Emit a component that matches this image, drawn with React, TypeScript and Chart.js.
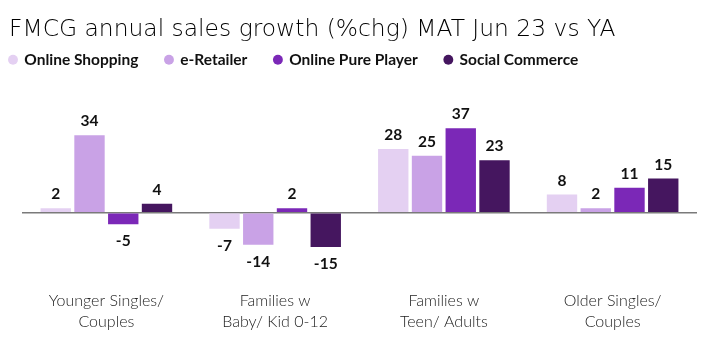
import React, { useEffect, useRef } from "react";
import { Chart, registerables } from "chart.js";

Chart.register(...registerables);

const categories: string[][] = [
  ["Younger Singles/", "Couples"],
  ["Families w", "Baby/ Kid 0-12"],
  ["Families w", "Teen/ Adults"],
  ["Older Singles/", "Couples"],
];
const seriesNames = ["Online Shopping", "e-Retailer", "Online Pure Player", "Social Commerce"];
const onlineShopping = [2, -7, 28, 8];
const eRetailer = [34, -14, 25, 2];
const onlinePurePlayer = [-5, 2, 37, 11];
const socialCommerce = [4, -15, 23, 15];
const colors = ["#E4D0F2", "#C9A2E6", "#7B28B7", "#45165F"];

const valueLabels = {
  id: "valueLabels",
  afterDatasetsDraw(chart: any) {
    const ctx = chart.ctx;
    ctx.save();
    ctx.font = "bold 15.5px Lato, 'Open Sans', sans-serif";
    ctx.fillStyle = "#111";
    ctx.textAlign = "center";
    ctx.textBaseline = "middle";
    chart.data.datasets.forEach((ds: any, i: number) => {
      const meta = chart.getDatasetMeta(i);
      meta.data.forEach((bar: any, j: number) => {
        const v = ds.data[j];
        const y = v >= 0 ? bar.y - 14 : bar.y + 17;
        ctx.fillText(String(v), bar.x, y);
      });
    });
    ctx.restore();
  },
};

const legendShift = {
  id: "legendShift",
  afterLayout(chart: any) {
    const lg = chart.legend;
    if (!lg) return;
    const pad = lg.options.labels.padding;
    const w = lg.width;
    lg.left = 9.5 - pad;
    lg.right = lg.left + w;
    const h = lg.height;
    lg.top = 25;
    lg.bottom = lg.top + h;
  },
};

export default function App() {
  const ref = useRef<HTMLCanvasElement>(null);
  useEffect(() => {
    document.body.style.margin = "0";
    const data = [onlineShopping, eRetailer, onlinePurePlayer, socialCommerce];
    const chart = new Chart(ref.current!, {
      type: "bar",
      data: {
        labels: categories,
        datasets: seriesNames.map((name, i) => ({
          label: name,
          data: data[i],
          backgroundColor: colors[i],
          borderWidth: 0,
        })),
      },
      options: {
        animation: false,
        responsive: false,
        maintainAspectRatio: false,
        layout: { padding: { left: 9, right: 24, top: 0, bottom: -4 } },
        plugins: {
          title: {
            display: true,
            text: "FMCG annual sales growth (%chg) MAT Jun 23 vs YA",
            align: "start",
            color: "#000",
            font: { family: "'DejaVu Sans', 'Open Sans', sans-serif", size: 23.4, weight: "200" },
            padding: { top: 16, bottom: 0 },
          },
          legend: {
            display: true,
            align: "start",
            labels: {
              usePointStyle: true,
              pointStyle: "circle",
              boxWidth: 7,
              boxHeight: 7,
              padding: 27,
              color: "#111",
              font: { family: "Lato, 'Open Sans', sans-serif", size: 15.5, weight: "bold" },
            },
          },
          tooltip: { enabled: false },
        },
        scales: {
          x: {
            grid: { display: false },
            border: { display: false },
            ticks: {
              color: "#222",
              font: { family: "Lato, 'Open Sans', sans-serif", size: 16, weight: "300", lineHeight: 1.35 },
              padding: 8,
            },
          },
          y: {
            min: -26.7,
            max: 50.9,
            afterFit: (s: any) => {
              s.width = 13;
            },
            ticks: { display: false, stepSize: 0.1 },
            border: { display: false },
            grid: {
              drawTicks: false,
              color: (c: any) => (c.tick && Math.abs(c.tick.value) < 1e-9 ? "#7a7a7a" : "rgba(0,0,0,0)"),
              lineWidth: 1.5,
            },
          },
        },
      },
      plugins: [valueLabels, legendShift],
    });
    return () => chart.destroy();
  }, []);
  return <canvas ref={ref} width={721} height={337} style={{ display: "block" }} />;
}
